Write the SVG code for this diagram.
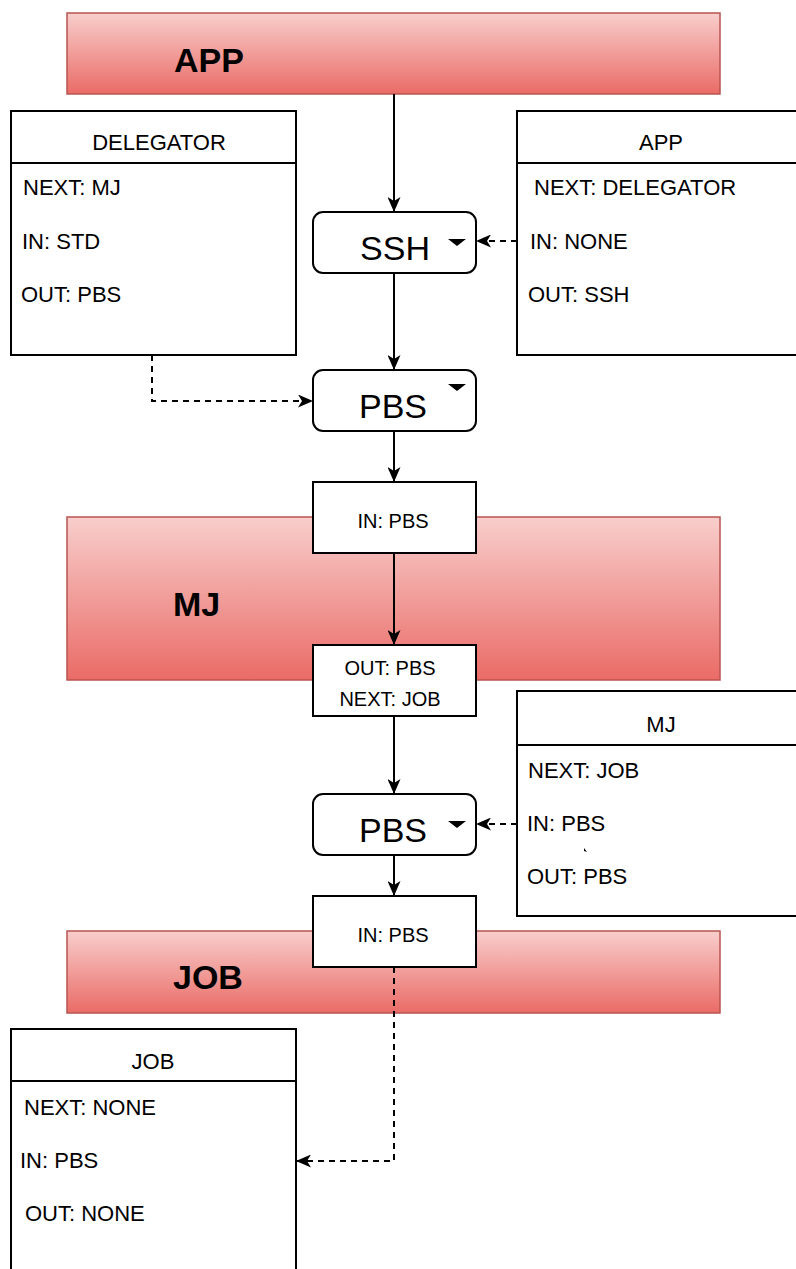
<svg xmlns="http://www.w3.org/2000/svg" width="796" height="1269" viewBox="0 0 796 1269">
  <defs>
    <linearGradient id="bannerFill" x1="0" y1="0" x2="0" y2="1">
      <stop offset="0" stop-color="#f8cecc"/>
      <stop offset="1" stop-color="#ea6b66"/>
    </linearGradient>
    <marker id="arrow" viewBox="0 0 15 13" markerWidth="15" markerHeight="13" refX="14" refY="6.5" orient="auto" markerUnits="userSpaceOnUse">
      <path d="M0,0 L15,6.5 L0,13 L4,6.5 z" fill="#000"/>
    </marker>
    <style>
      .banner { fill: url(#bannerFill); stroke: #b85450; stroke-width: 1.5; }
      .bannerText { font-family: "Liberation Sans", Arial, sans-serif; font-weight: bold; font-size: 34px; fill: #000; }
      .table { fill: #fff; stroke: #000; stroke-width: 2; }
      .sep { stroke: #000; stroke-width: 2; }
      .title { font-family: "Liberation Sans", Arial, sans-serif; font-size: 22px; fill: #000; text-anchor: middle; }
      .row { font-family: "Liberation Sans", Arial, sans-serif; font-size: 22px; fill: #000; }
      .proc { fill: #fff; stroke: #000; stroke-width: 2; }
      .procText { font-family: "Liberation Sans", Arial, sans-serif; font-size: 34px; fill: #000; text-anchor: middle; }
      .tri { fill: #000; }
      .port { fill: #fff; stroke: #000; stroke-width: 2; }
      .portText { font-family: "Liberation Sans", Arial, sans-serif; font-size: 20px; fill: #000; text-anchor: middle; }
      .solid { fill: none; stroke: #000; stroke-width: 2; marker-end: url(#arrow); }
      .dashed { fill: none; stroke: #000; stroke-width: 2; stroke-dasharray: 6 5; marker-end: url(#arrow); }
    </style>
  </defs>

  <rect width="796" height="1269" fill="#fff"/>

  <!-- layer banners -->
  <g id="banner-app">
    <rect class="banner" x="67" y="13" width="653" height="81"/>
    <text class="bannerText" x="174" y="72">APP</text>
  </g>
  <g id="banner-mj">
    <rect class="banner" x="67" y="517" width="653" height="163"/>
    <text class="bannerText" x="173" y="616">MJ</text>
  </g>
  <g id="banner-job">
    <rect class="banner" x="67" y="931" width="653" height="82"/>
    <text class="bannerText" x="173" y="989">JOB</text>
  </g>

  <!-- property tables -->
  <g id="table-delegator">
    <rect class="table" x="11" y="111" width="285" height="244"/>
    <line class="sep" x1="11" y1="163" x2="296" y2="163"/>
    <text class="title" x="159" y="150">DELEGATOR</text>
    <text class="row" x="23" y="195">NEXT: MJ</text>
    <text class="row" x="22" y="249">IN: STD</text>
    <text class="row" x="21" y="302">OUT: PBS</text>
  </g>
  <g id="table-app">
    <rect class="table" x="517" y="111" width="285" height="244"/>
    <line class="sep" x1="517" y1="163" x2="802" y2="163"/>
    <text class="title" x="661" y="150">APP</text>
    <text class="row" x="534" y="195">NEXT: DELEGATOR</text>
    <text class="row" x="530" y="249">IN: NONE</text>
    <text class="row" x="528" y="302">OUT: SSH</text>
  </g>
  <g id="table-mj">
    <rect class="table" x="517" y="691" width="285" height="225"/>
    <line class="sep" x1="517" y1="745" x2="802" y2="745"/>
    <text class="title" x="661" y="732">MJ</text>
    <text class="row" x="528" y="778">NEXT: JOB</text>
    <text class="row" x="527" y="831">IN: PBS</text>
    <path d="M584,848 L587,852 L584,851 z" fill="#000"/>
    <text class="row" x="527" y="884">OUT: PBS</text>
  </g>
  <g id="table-job">
    <rect class="table" x="11" y="1029" width="285" height="250"/>
    <line class="sep" x1="11" y1="1081" x2="296" y2="1081"/>
    <text class="title" x="153" y="1069">JOB</text>
    <text class="row" x="24" y="1115">NEXT: NONE</text>
    <text class="row" x="20" y="1168">IN: PBS</text>
    <text class="row" x="25" y="1221">OUT: NONE</text>
  </g>

  <!-- transport nodes -->
  <g id="node-ssh">
    <rect class="proc" x="313" y="212" width="163" height="61" rx="10" ry="10"/>
    <text class="procText" x="395" y="260">SSH</text>
    <path class="tri" d="M448,239 L466,239 L457,246 z"/>
  </g>
  <g id="node-pbs-1">
    <rect class="proc" x="313" y="370" width="163" height="61" rx="10" ry="10"/>
    <text class="procText" x="393" y="418">PBS</text>
    <path class="tri" d="M448,384 L466,384 L457,391 z"/>
  </g>
  <g id="node-pbs-2">
    <rect class="proc" x="313" y="794" width="163" height="61" rx="10" ry="10"/>
    <text class="procText" x="393" y="842">PBS</text>
    <path class="tri" d="M448,821 L466,821 L457,828 z"/>
  </g>

  <!-- port boxes -->
  <g id="port-mj-in">
    <rect class="port" x="313" y="482" width="163" height="71"/>
    <text class="portText" x="393" y="528">IN: PBS</text>
  </g>
  <g id="port-mj-out">
    <rect class="port" x="313" y="645" width="163" height="71"/>
    <text class="portText" x="390" y="675">OUT: PBS</text>
    <text class="portText" x="390" y="706">NEXT: JOB</text>
  </g>
  <g id="port-job-in">
    <rect class="port" x="313" y="896" width="163" height="71"/>
    <text class="portText" x="393" y="942">IN: PBS</text>
  </g>

  <!-- connectors -->
  <g id="connectors">
    <path class="solid" d="M394,94 L394,211"/>
    <path class="dashed" d="M517,241 L477,241"/>
    <path class="solid" d="M394,273 L394,369"/>
    <path class="dashed" d="M152,355 L152,401 L312,401"/>
    <path class="solid" d="M394,431 L394,481"/>
    <path class="solid" d="M394,553 L394,644"/>
    <path class="solid" d="M394,716 L394,793"/>
    <path class="dashed" d="M517,824 L477,824"/>
    <path class="solid" d="M394,855 L394,895"/>
    <path class="dashed" d="M394,967 L394,1161 L297,1161"/>
  </g>
</svg>
